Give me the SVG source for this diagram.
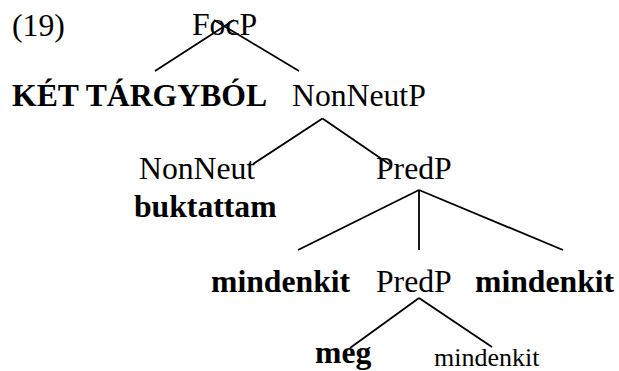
<svg xmlns="http://www.w3.org/2000/svg" width="619" height="371" viewBox="0 0 619 371">
<style>
text{font-family:"Liberation Serif","Times New Roman",serif;font-size:31.7px;fill:#000}
.b{font-weight:bold}
.s{font-size:26px}
.e line{stroke:#000;stroke-width:1.8;fill:none}
</style>
<rect width="619" height="371" fill="#fff"/>
<text x="12" y="36">(19)</text>
<g id="connectors" class="e">
<line x1="155" y1="71" x2="234" y2="20"/>
<line x1="299" y1="71" x2="214" y2="20"/>
<line x1="322.5" y1="118.5" x2="253" y2="164"/>
<line x1="322.5" y1="118.5" x2="389" y2="164"/>
<line x1="419" y1="190" x2="298" y2="250"/>
<line x1="419" y1="190" x2="419" y2="250"/>
<line x1="419" y1="190" x2="563" y2="250"/>
<line x1="419" y1="298" x2="350" y2="348"/>
<line x1="419" y1="298" x2="492" y2="347"/>
</g>
<g id="focp"><text x="192" y="35">FocP</text></g>
<g id="ket"><text class="b" x="12" y="106">KÉT TÁRGYBÓL</text></g>
<g id="nonneutp"><text x="292" y="106">NonNeutP</text></g>
<g id="nonneut"><text x="139" y="179">NonNeut</text><text class="b" x="134" y="217">buktattam</text></g>
<g id="predp1"><text x="376" y="179">PredP</text></g>
<g id="mind1"><text class="b" x="211" y="292">mindenkit</text></g>
<g id="predp2"><text x="376" y="292">PredP</text></g>
<g id="mind2"><text class="b" x="475" y="292">mindenkit</text></g>
<g id="meg"><text class="b" x="315" y="363">meg</text></g>
<g id="mind3"><text class="s" x="434" y="366">mindenkit</text></g>
</svg>
